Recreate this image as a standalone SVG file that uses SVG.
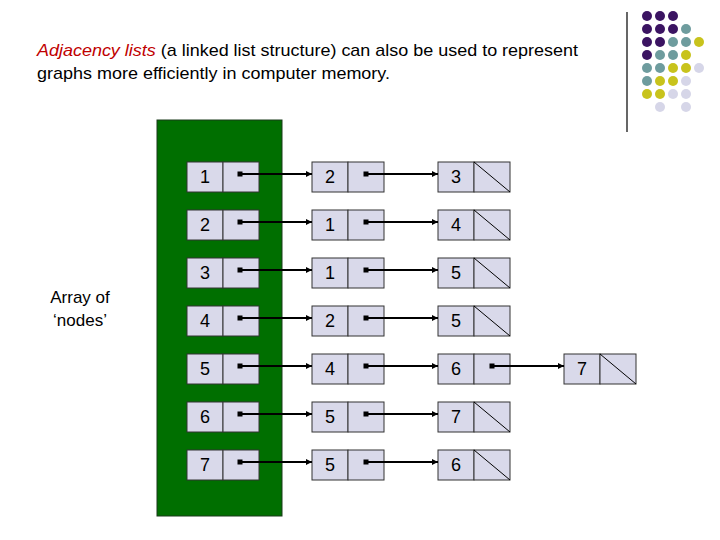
<svg xmlns="http://www.w3.org/2000/svg" width="720" height="540" viewBox="0 0 720 540">
<defs>
<style>
.t{font-family:"Liberation Sans",Arial,sans-serif;font-size:17px;fill:#000}
.num{font-family:"Liberation Sans",Arial,sans-serif;font-size:18px;fill:#000;text-anchor:middle}
.lbl{font-family:"Liberation Sans",Arial,sans-serif;font-size:17px;fill:#000;text-anchor:middle}
.cell{fill:#d9d9ea;stroke:#333;stroke-width:1}
.lnk{stroke:#000;stroke-width:2;fill:none}
.nul{stroke:#000;stroke-width:1}
.p{fill:#3b1462}.g{fill:#6e9c9e}.y{fill:#c8c31c}.l{fill:#d6d6e8}
</style>
<marker id="ah" viewBox="0 0 6 6" refX="6" refY="3" markerWidth="6" markerHeight="6" markerUnits="userSpaceOnUse" orient="auto">
<path d="M0,0 L6,3 L0,6 z" fill="#000"/>
</marker>
<g id="node-tpl">
<rect class="cell" x="0" y="0" width="36" height="30"/>
<rect class="cell" x="36" y="0" width="36" height="30"/>
</g>
</defs>
<rect width="720" height="540" fill="#fff"/>
<g id="decor">
<line x1="627" y1="12" x2="627" y2="132" stroke="#000" stroke-width="1.2"/>
<circle class="p" cx="647" cy="16" r="5"/><circle class="p" cx="660" cy="16" r="5"/><circle class="p" cx="673" cy="16" r="5"/>
<circle class="p" cx="647" cy="29" r="5"/><circle class="p" cx="660" cy="29" r="5"/><circle class="p" cx="673" cy="29" r="5"/><circle class="g" cx="686" cy="29" r="5"/>
<circle class="p" cx="647" cy="42" r="5"/><circle class="p" cx="660" cy="42" r="5"/><circle class="g" cx="673" cy="42" r="5"/><circle class="g" cx="686" cy="42" r="5"/><circle class="y" cx="699" cy="42" r="5"/>
<circle class="p" cx="647" cy="55" r="5"/><circle class="g" cx="660" cy="55" r="5"/><circle class="g" cx="673" cy="55" r="5"/><circle class="y" cx="686" cy="55" r="5"/>
<circle class="g" cx="647" cy="68" r="5"/><circle class="g" cx="660" cy="68" r="5"/><circle class="y" cx="673" cy="68" r="5"/><circle class="y" cx="686" cy="68" r="5"/><circle class="l" cx="699" cy="68" r="5"/>
<circle class="g" cx="647" cy="81" r="5"/><circle class="y" cx="660" cy="81" r="5"/><circle class="y" cx="673" cy="81" r="5"/><circle class="l" cx="686" cy="81" r="5"/>
<circle class="y" cx="647" cy="94" r="5"/><circle class="y" cx="660" cy="94" r="5"/><circle class="l" cx="673" cy="94" r="5"/><circle class="l" cx="686" cy="94" r="5"/>
<circle class="l" cx="660" cy="107" r="5"/><circle class="l" cx="686" cy="107" r="5"/>
</g>
<g id="title">
<text class="t" x="37" y="56" textLength="541" lengthAdjust="spacingAndGlyphs"><tspan fill="#c00000" font-style="italic">Adjacency lists</tspan> (a linked list structure) can also be used to represent</text>
<text class="t" x="37" y="79" textLength="353" lengthAdjust="spacingAndGlyphs">graphs more efficiently in computer memory.</text>
</g>
<g id="array">
<rect x="157" y="120" width="125" height="396" fill="#006f00" stroke="#1a3a1a" stroke-width="1"/>
</g>
<g id="array-label">
<text class="lbl" x="80" y="303">Array of</text>
<text class="lbl" x="80" y="326">‘nodes’</text>
</g>
<g id="row1">
<use href="#node-tpl" x="187" y="162"/><text class="num" x="205" y="183">1</text>
<use href="#node-tpl" x="312" y="162"/><text class="num" x="330" y="183">2</text>
<use href="#node-tpl" x="438" y="162"/><text class="num" x="456" y="183">3</text>
<line class="nul" x1="474" y1="162" x2="510" y2="192"/>
</g>
<g id="row2">
<use href="#node-tpl" x="187" y="210"/><text class="num" x="205" y="231">2</text>
<use href="#node-tpl" x="312" y="210"/><text class="num" x="330" y="231">1</text>
<use href="#node-tpl" x="438" y="210"/><text class="num" x="456" y="231">4</text>
<line class="nul" x1="474" y1="210" x2="510" y2="240"/>
</g>
<g id="row3">
<use href="#node-tpl" x="187" y="258"/><text class="num" x="205" y="279">3</text>
<use href="#node-tpl" x="312" y="258"/><text class="num" x="330" y="279">1</text>
<use href="#node-tpl" x="438" y="258"/><text class="num" x="456" y="279">5</text>
<line class="nul" x1="474" y1="258" x2="510" y2="288"/>
</g>
<g id="row4">
<use href="#node-tpl" x="187" y="306"/><text class="num" x="205" y="327">4</text>
<use href="#node-tpl" x="312" y="306"/><text class="num" x="330" y="327">2</text>
<use href="#node-tpl" x="438" y="306"/><text class="num" x="456" y="327">5</text>
<line class="nul" x1="474" y1="306" x2="510" y2="336"/>
</g>
<g id="row5">
<use href="#node-tpl" x="187" y="354"/><text class="num" x="205" y="375">5</text>
<use href="#node-tpl" x="312" y="354"/><text class="num" x="330" y="375">4</text>
<use href="#node-tpl" x="438" y="354"/><text class="num" x="456" y="375">6</text>
<use href="#node-tpl" x="564" y="354"/><text class="num" x="582" y="375">7</text>
<line class="nul" x1="600" y1="354" x2="636" y2="384"/>
</g>
<g id="row6">
<use href="#node-tpl" x="187" y="402"/><text class="num" x="205" y="423">6</text>
<use href="#node-tpl" x="312" y="402"/><text class="num" x="330" y="423">5</text>
<use href="#node-tpl" x="438" y="402"/><text class="num" x="456" y="423">7</text>
<line class="nul" x1="474" y1="402" x2="510" y2="432"/>
</g>
<g id="row7">
<use href="#node-tpl" x="187" y="450"/><text class="num" x="205" y="471">7</text>
<use href="#node-tpl" x="312" y="450"/><text class="num" x="330" y="471">5</text>
<use href="#node-tpl" x="438" y="450"/><text class="num" x="456" y="471">6</text>
<line class="nul" x1="474" y1="450" x2="510" y2="480"/>
</g>
<g id="connectors">
<path class="lnk" marker-end="url(#ah)" d="M240,174 H312"/><path class="lnk" marker-end="url(#ah)" d="M366,174 H438"/>
<path class="lnk" marker-end="url(#ah)" d="M240,222 H312"/><path class="lnk" marker-end="url(#ah)" d="M366,222 H438"/>
<path class="lnk" marker-end="url(#ah)" d="M240,270 H312"/><path class="lnk" marker-end="url(#ah)" d="M366,270 H438"/>
<path class="lnk" marker-end="url(#ah)" d="M240,318 H312"/><path class="lnk" marker-end="url(#ah)" d="M366,318 H438"/>
<path class="lnk" marker-end="url(#ah)" d="M240,366 H312"/><path class="lnk" marker-end="url(#ah)" d="M366,366 H438"/><path class="lnk" marker-end="url(#ah)" d="M492,366 H564"/>
<path class="lnk" marker-end="url(#ah)" d="M240,414 H312"/><path class="lnk" marker-end="url(#ah)" d="M366,414 H438"/>
<path class="lnk" marker-end="url(#ah)" d="M240,462 H312"/><path class="lnk" marker-end="url(#ah)" d="M366,462 H438"/>
<g fill="#000">
<rect x="237.5" y="171.5" width="5" height="5"/><rect x="363.5" y="171.5" width="5" height="5"/>
<rect x="237.5" y="219.5" width="5" height="5"/><rect x="363.5" y="219.5" width="5" height="5"/>
<rect x="237.5" y="267.5" width="5" height="5"/><rect x="363.5" y="267.5" width="5" height="5"/>
<rect x="237.5" y="315.5" width="5" height="5"/><rect x="363.5" y="315.5" width="5" height="5"/>
<rect x="237.5" y="363.5" width="5" height="5"/><rect x="363.5" y="363.5" width="5" height="5"/><rect x="489.5" y="363.5" width="5" height="5"/>
<rect x="237.5" y="411.5" width="5" height="5"/><rect x="363.5" y="411.5" width="5" height="5"/>
<rect x="237.5" y="459.5" width="5" height="5"/><rect x="363.5" y="459.5" width="5" height="5"/>
</g>
</g>
</svg>
